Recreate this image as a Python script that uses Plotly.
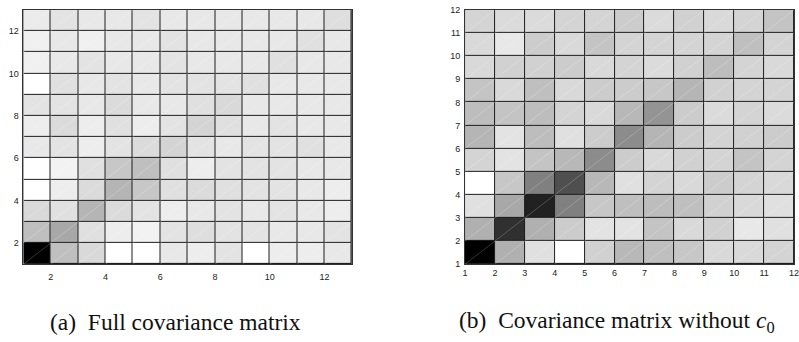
import plotly.graph_objects as go

# ---------------- data (cell darkness, 0 = white, 100 = black) ----------------
# Panel (a): full covariance matrix, rows listed from bottom (y=1) to top (y=12)
cov_full = [
    [100, 25, 15, 0, 0, 9, 7, 11, 0, 7, 7, 9],
    [25, 34, 12, 7, 5, 11, 13, 11, 11, 9, 9, 11],
    [15, 12, 29, 14, 11, 7, 9, 11, 9, 11, 9, 7],
    [0, 7, 14, 29, 22, 12, 14, 12, 11, 11, 9, 7],
    [0, 5, 12, 22, 25, 12, 7, 11, 11, 11, 9, 9],
    [9, 11, 7, 11, 14, 17, 11, 9, 11, 11, 12, 9],
    [7, 14, 7, 12, 7, 11, 17, 12, 9, 11, 9, 9],
    [11, 11, 9, 14, 9, 9, 12, 15, 9, 9, 9, 9],
    [0, 12, 9, 11, 9, 11, 11, 11, 12, 9, 9, 9],
    [6, 9, 11, 9, 9, 11, 9, 9, 9, 12, 9, 9],
    [6, 9, 6, 9, 9, 11, 9, 9, 9, 9, 12, 9],
    [8, 11, 9, 9, 11, 9, 9, 9, 9, 9, 9, 13],
]
# Panel (b): covariance matrix without c0, rows from bottom (y=1) to top (y=11)
cov_no_c0 = [
    [100, 31, 12, 0, 18, 28, 25, 22, 15, 15, 17],
    [31, 81, 31, 20, 11, 11, 23, 15, 18, 9, 12],
    [12, 34, 87, 50, 22, 25, 26, 25, 18, 15, 12],
    [0, 22, 50, 69, 28, 12, 17, 15, 20, 17, 15],
    [17, 11, 23, 28, 45, 20, 15, 18, 17, 23, 17],
    [29, 11, 26, 12, 20, 45, 29, 20, 17, 18, 20],
    [26, 23, 26, 17, 15, 28, 42, 20, 14, 17, 14],
    [23, 15, 25, 15, 20, 20, 22, 29, 18, 17, 17],
    [15, 18, 18, 20, 15, 17, 14, 18, 26, 17, 15],
    [15, 9, 20, 15, 23, 17, 17, 17, 17, 25, 17],
    [17, 14, 14, 17, 17, 20, 14, 18, 15, 17, 23],
]
edges_a = list(range(1, 14))          # cell edges 1..13
edges_b = list(range(1, 13))          # cell edges 1..12
ticks_a = [2, 4, 6, 8, 10, 12]
ticks_b = list(range(1, 13))
caption_a = "(a)  Full covariance matrix"
caption_b = "(b)  Covariance matrix without <i>c</i><sub>0</sub>"

W, H = 799, 342
gray = [[0, "#ffffff"], [1, "#000000"]]


def diag_lines(edges):
    xs, ys = [], []
    for i in range(len(edges) - 1):
        for j in range(len(edges) - 1):
            xs += [edges[i], edges[i + 1], None]
            ys += [edges[j], edges[j + 1], None]
    return xs, ys


fig = go.Figure()
fig.add_trace(go.Heatmap(z=cov_full, x=edges_a, y=edges_a, colorscale=gray,
                         zmin=0, zmax=100, showscale=False, xgap=1, ygap=1,
                         xaxis="x", yaxis="y", hoverinfo="skip"))
dx, dy = diag_lines(edges_a)
fig.add_trace(go.Scatter(x=dx, y=dy, mode="lines", xaxis="x", yaxis="y",
                         line=dict(color="rgba(255,255,255,0.35)", width=0.6),
                         hoverinfo="skip", showlegend=False))
fig.add_trace(go.Heatmap(z=cov_no_c0, x=edges_b, y=edges_b, colorscale=gray,
                         zmin=0, zmax=100, showscale=False, xgap=1, ygap=1,
                         xaxis="x2", yaxis="y2", hoverinfo="skip"))
dx, dy = diag_lines(edges_b)
fig.add_trace(go.Scatter(x=dx, y=dy, mode="lines", xaxis="x2", yaxis="y2",
                         line=dict(color="rgba(255,255,255,0.35)", width=0.6),
                         hoverinfo="skip", showlegend=False))

tickfont = dict(family="Liberation Sans, Arial, sans-serif", size=9, color="#222")
axis_common = dict(showgrid=False, zeroline=False, showline=True, linecolor="#333",
                   linewidth=1, mirror=True, ticks="", tickfont=tickfont)

ydom = [1 - 267 / H, 1 - 5 / H]
capfont = dict(family="Liberation Serif, Times New Roman, serif", size=23.5, color="#111")
fig.update_layout(
    width=W, height=H, margin=dict(l=0, r=0, t=0, b=0),
    paper_bgcolor="white", plot_bgcolor="#1e1e1e", showlegend=False,
    xaxis=dict(domain=[20.7 / W, 352.3 / W], range=[1, 13], tickvals=ticks_a,
               anchor="y", ticklabelstandoff=4, **axis_common),
    yaxis=dict(domain=ydom, range=[1, 13], tickvals=ticks_a, anchor="x",
               ticklabelstandoff=2, **axis_common),
    xaxis2=dict(domain=[466.7 / W, 1.0], range=[1, 12], tickvals=ticks_b,
                anchor="y2", ticklabelstandoff=0, ticklabeloverflow="allow",
                **axis_common),
    yaxis2=dict(domain=ydom, range=[1, 12], tickvals=ticks_b, anchor="x2",
                ticklabelstandoff=2, **axis_common),
    annotations=[
        dict(text=caption_a, x=174.5 / W, y=1 - 327 / H, xref="paper", yref="paper",
             showarrow=False, xanchor="center", yanchor="middle", font=capfont),
        dict(text=caption_b, x=620 / W, y=1 - 327 / H, xref="paper", yref="paper",
             showarrow=False, xanchor="center", yanchor="middle", font=capfont),
    ],
)

fig.write_html("out.html")
